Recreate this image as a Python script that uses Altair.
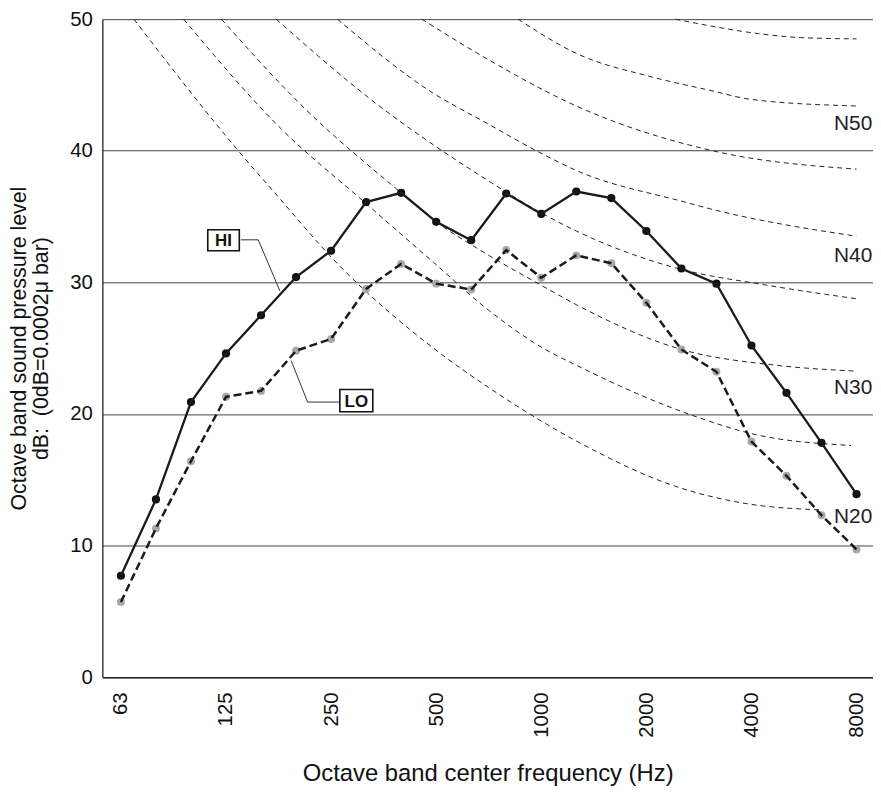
import altair as alt
import pandas as pd

FONT = "Liberation Sans"

# 1/3-octave band centre frequencies (x positions are band indices 0..21)
bands = ["63", "80", "100", "125", "160", "200", "250", "315", "400", "500", "630",
         "800", "1000", "1250", "1600", "2000", "2500", "3150", "4000", "5000", "6300", "8000"]
tick_idx = [0, 3, 6, 9, 12, 15, 18, 21]
tick_labels = ["63", "125", "250", "500", "1000", "2000", "4000", "8000"]

hi_db = [7.7, 13.5, 20.9, 24.6, 27.5, 30.4, 32.4, 36.1, 36.8, 34.6, 33.2,
         36.75, 35.2, 36.9, 36.4, 33.9, 31.05, 29.9, 25.2, 21.6, 17.8, 13.9]
lo_db = [5.7, 11.3, 16.4, 21.3, 21.75, 24.8, 25.7, 29.5, 31.4, 29.9, 29.45,
         32.45, 30.35, 32.05, 31.45, 28.45, 24.9, 23.2, 17.9, 15.3, 12.3, 9.7]

# N-curves (band index, dB)
n20_idx = [0.37, 3.35, 4.49, 6.08, 8.92, 10.5, 13.1, 15.83, 17.7, 20.0]
n20_db = [50, 40, 36.5, 31.7, 25.0, 22.0, 17.8, 14.5, 13.25, 12.7]
n25_idx = [1.79, 4.58, 6.95, 8.93, 10.44, 12.05, 13.0, 16.3, 18.0, 20.84]
n25_db = [50, 41.65, 36.1, 31.5, 28.0, 25.0, 23.7, 19.9, 18.5, 17.6]
n30_idx = [2.87, 5.1, 8.0, 9.0, 10.16, 12.05, 13.0, 16.0, 18.7, 21]
n30_db = [50, 43.6, 36.8, 34.6, 32.6, 29.7, 28.3, 24.9, 23.7, 23.25]
n35_idx = [4.43, 7.23, 10.44, 12.05, 13.0, 15.83, 18.4, 21]
n35_db = [50, 43.7, 37.8, 35.2, 33.9, 31.1, 29.8, 28.75]
n40_idx = [6.18, 8.9, 10.44, 11.86, 13.0, 16.1, 16.8, 21]
n40_db = [50, 44.4, 42.1, 40.0, 38.5, 36.1, 35.6, 33.5]
n45_idx = [8.59, 10.44, 13.0, 17.06, 21]
n45_db = [50, 47.0, 43.4, 39.9, 38.6]
n50_idx = [11.34, 13.0, 15.17, 16.8, 18.0, 21]
n50_db = [50, 47.4, 45.6, 44.6, 43.9, 43.4]
n55_idx = [15.83, 17.0, 18.2, 19.4, 21]
n55_db = [50, 49.4, 48.9, 48.6, 48.5]

n_labels = ["N50", "N40", "N30", "N20"]
n_label_db = [42.0, 32.0, 22.0, 12.15]
n_label_idx = [21.45, 21.45, 21.45, 21.45]

# annotation boxes and leader lines (data units)
box_names = ["HI", "LO"]
box_x1 = [2.48, 6.25]
box_x2 = [3.38, 7.19]
box_y1 = [32.4, 20.16]
box_y2 = [34.0, 21.85]
box_cx = [2.93, 6.72]
box_cy = [33.2, 21.0]
hi_leader_idx = [3.42, 3.92, 4.54]
hi_leader_db = [33.23, 33.23, 29.34]
lo_leader_idx = [4.86, 5.33, 6.23]
lo_leader_db = [24.05, 20.9, 20.9]

# ---- tables ----
curves = []
for name, xs, ys in [("N20", n20_idx, n20_db), ("N25", n25_idx, n25_db),
                     ("N30", n30_idx, n30_db), ("N35", n35_idx, n35_db),
                     ("N40", n40_idx, n40_db), ("N45", n45_idx, n45_db),
                     ("N50", n50_idx, n50_db), ("N55", n55_idx, n55_db)]:
    for xv, yv in zip(xs, ys):
        curves.append({"curve": name, "idx": xv, "db": yv})
curves_df = pd.DataFrame(curves)

hi_df = pd.DataFrame({"idx": list(range(len(bands))), "band": bands, "db": hi_db})
lo_df = pd.DataFrame({"idx": list(range(len(bands))), "band": bands, "db": lo_db})

labels_df = pd.DataFrame({"label": n_labels, "idx": n_label_idx, "db": n_label_db})
box_df = pd.DataFrame({"name": box_names, "x1": box_x1, "x2": box_x2,
                       "y1": box_y1, "y2": box_y2, "cx": box_cx, "cy": box_cy})
leader_df = pd.DataFrame(
    [{"g": "HI", "o": i, "idx": a, "db": b} for i, (a, b) in enumerate(zip(hi_leader_idx, hi_leader_db))]
    + [{"g": "LO", "o": i, "idx": a, "db": b} for i, (a, b) in enumerate(zip(lo_leader_idx, lo_leader_db))]
)

label_expr = "[" + ",".join("'%s'" % t for t in tick_labels) + "][floor(datum.value / 3)]"

x_scale = alt.Scale(domain=[-0.53, 21.47], nice=False, zero=False)
y_scale = alt.Scale(domain=[0, 50], nice=False, zero=True)

x_enc = alt.X("idx:Q", scale=x_scale,
              axis=alt.Axis(values=tick_idx, labelExpr=label_expr, labelAngle=-90,
                            labelAlign="right", labelBaseline="middle",
                            labelFontSize=20.5, labelFont=FONT, labelColor="#111",
                            labelPadding=15, ticks=True, tickSize=0, grid=False,
                            domainColor="#222", domainWidth=1.3,
                            title="Octave band center frequency (Hz)",
                            titleFontSize=24, titleFont=FONT, titleFontWeight="normal",
                            titleColor="#111", titlePadding=25))
y_enc = alt.Y("db:Q", scale=y_scale,
              axis=alt.Axis(values=[0, 10, 20, 30, 40, 50], labelFontSize=20.5, labelFont=FONT,
                            labelColor="#111", labelPadding=10, ticks=True, tickSize=0,
                            grid=True, gridColor="#444", gridWidth=1,
                            domainColor="#222", domainWidth=1.3,
                            title=["Octave band sound pressure level",
                                   "dB:\u00a0\u00a0(0dB=0.0002\u03bc bar)"],
                            titleFontSize=21.5, titleFont=FONT, titleFontWeight="normal",
                            titleColor="#111", titleLineHeight=22.5, titlePadding=17))

curves_layer = alt.Chart(curves_df).mark_line(
    interpolate="monotone", strokeDash=[5, 4], strokeWidth=1, color="#222"
).encode(x=x_enc, y=y_enc, detail="curve:N")

nlab_layer = alt.Chart(labels_df).mark_text(
    align="right", baseline="middle", fontSize=21, font=FONT, color="#222"
).encode(x="idx:Q", y="db:Q", text="label:N")

lo_pts = alt.Chart(lo_df).mark_circle(size=64, color="#a8a8a8", opacity=1).encode(x="idx:Q", y="db:Q")
hi_pts = alt.Chart(hi_df).mark_circle(size=68, color="#111", opacity=1).encode(x="idx:Q", y="db:Q")

hi_line = alt.Chart(hi_df).mark_line(color="#1a1a1a", strokeWidth=2.3).encode(x="idx:Q", y="db:Q")
lo_line = alt.Chart(lo_df).mark_line(color="#1a1a1a", strokeWidth=2.5, strokeDash=[8, 4]).encode(x="idx:Q", y="db:Q")

leader_layer = alt.Chart(leader_df).mark_line(color="#333", strokeWidth=1).encode(
    x="idx:Q", y="db:Q", detail="g:N", order="o:Q")

box_layer = alt.Chart(box_df).mark_rect(fill="white", stroke="#111", strokeWidth=1.6).encode(
    x="x1:Q", x2="x2", y="y1:Q", y2="y2")
box_text = alt.Chart(box_df).mark_text(
    fontSize=17, fontWeight="bold", font=FONT, color="#111", align="center", baseline="middle", dy=1
).encode(x="cx:Q", y="cy:Q", text="name:N")

chart = alt.layer(
    curves_layer, nlab_layer, lo_pts, hi_pts, hi_line, lo_line, leader_layer, box_layer, box_text
).properties(
    width=776, height=662.5,
    padding={"left": 95, "top": 8.5, "right": 0, "bottom": 115},
    autosize=alt.AutoSizeParams(type="none"),
    background="white",
).configure_view(strokeWidth=0)

chart.save("out.html", embed_options={"renderer": "svg", "actions": False})
